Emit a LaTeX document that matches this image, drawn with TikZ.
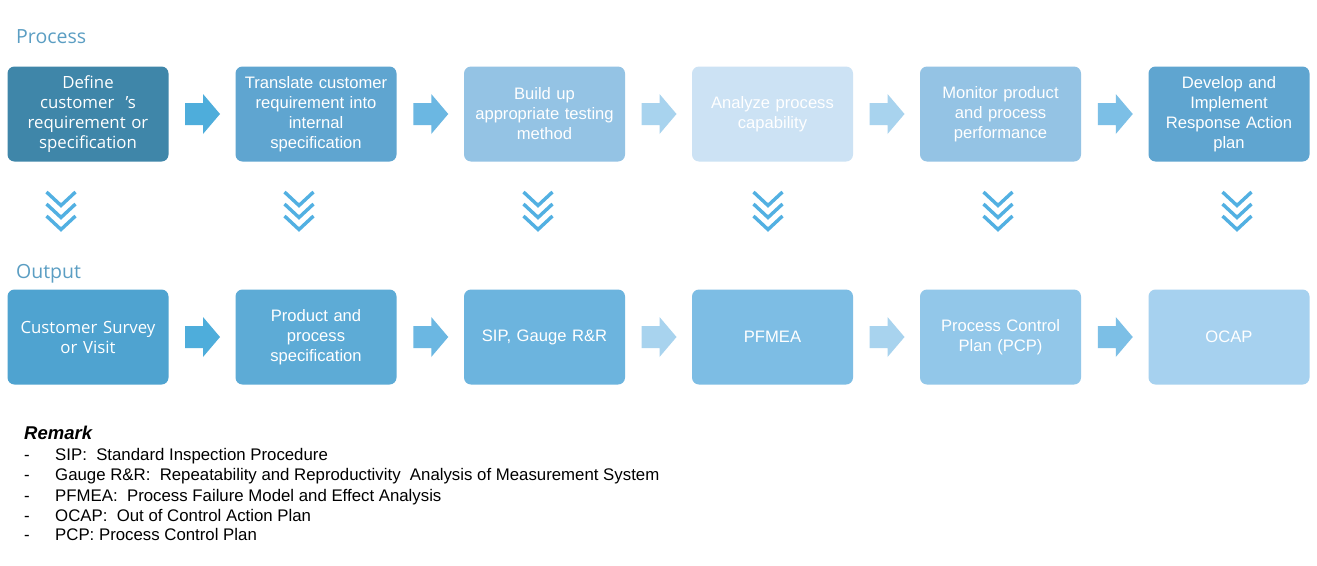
\documentclass[tikz,border=0pt]{standalone}
\usepackage{fontspec}
\setmainfont{Liberation Sans}
\newfontfamily\labfont{Open Sans}
\usetikzlibrary{calc}
\definecolor{lab}{HTML}{5B9EC3}
\definecolor{pA}{HTML}{3F86A9}
\definecolor{pB}{HTML}{5FA5D0}
\definecolor{pC}{HTML}{94C3E4}
\definecolor{pD}{HTML}{CCE2F4}
\definecolor{pE}{HTML}{94C3E4}
\definecolor{pF}{HTML}{5FA5D0}
\definecolor{oA}{HTML}{4FA3D0}
\definecolor{oB}{HTML}{5DABD6}
\definecolor{oC}{HTML}{6CB4DE}
\definecolor{oD}{HTML}{7DBDE4}
\definecolor{oE}{HTML}{92C7E9}
\definecolor{oF}{HTML}{A6D1EF}
\definecolor{aA}{HTML}{4EADDB}
\definecolor{aB}{HTML}{6BB7E2}
\definecolor{aC}{HTML}{A8D3EE}
\definecolor{aD}{HTML}{A8D3EE}
\definecolor{aE}{HTML}{7CBFE6}
\definecolor{chev}{HTML}{52B0E2}
\tikzset{
  box/.style={rounded corners=7pt, minimum width=161pt, minimum height=95pt,
    text width=158pt, align=center, text=white, inner sep=0pt,
    font=\fontsize{16.6}{20}\selectfont},
  altfont/.style={font=\labfont\fontsize{16.8}{20}\selectfont},
  barrow/.pic={\fill (-17,-11) -- (1,-11) -- (1,-20) -- (18,0) -- (1,20) -- (1,11) -- (-17,11) -- cycle;},
  chevrons/.pic={\foreach \d in {0,12,24}{\draw[line width=3.4pt, line cap=butt, line join=miter] (-14.5,-19+\d) -- (0,-5.5+\d) -- (14.5,-19+\d);}},
  seclabel/.style={anchor=base west, inner sep=0pt, text=lab, font=\labfont\fontsize{19.5}{22}\selectfont},
  remark/.style={anchor=base west, inner sep=0pt, font=\fontsize{16.8}{18}\selectfont},
}
\begin{document}
\begin{tikzpicture}[x=1pt,y=-1pt]
\useasboundingbox[fill=white] (0,0) rectangle (1317,565);
\node[seclabel] (proc) at (16,43) {Process};
\node[seclabel] (outp) at (16,278) {Output};
% process row
\node[box, altfont, fill=pA] (p1) at (88,114) {Define\\customer \ ’s\\requirement or\\specification};
\node[box, fill=pB] (p2) at (316,114) {Translate customer\\requirement into\\internal\\specification};
\node[box, fill=pC] (p3) at (544.5,114) {Build up\\appropriate testing\\method};
\node[box, fill=pD] (p4) at (772.5,114) {Analyze process\\capability};
\node[box, fill=pE] (p5) at (1000.5,114) {Monitor product\\and process\\performance};
\node[box, fill=pF] (p6) at (1229,114) {Develop and\\Implement\\Response Action\\plan};
% output row
\node[box, altfont, fill=oA] (o1) at (88,337) {Customer Survey\\or Visit};
\node[box, fill=oB] (o2) at (316,337) {Product and\\process\\specification};
\node[box, fill=oC] (o3) at (544.5,337) {SIP, Gauge R\&R};
\node[box, fill=oD] (o4) at (772.5,337) {PFMEA};
\node[box, fill=oE] (o5) at (1000.5,337) {Process Control\\Plan (PCP)};
\node[box, fill=oF] (o6) at (1229,337) {OCAP};
% block arrows
\foreach \a/\b/\c in {p1/p2/aA,p2/p3/aB,p3/p4/aC,p4/p5/aD,p5/p6/aE}
  \pic[fill=\c] at ($(\a.east)!0.5!(\b.west)$) {barrow};
\foreach \a/\b/\c in {o1/o2/aA,o2/o3/aB,o3/o4/aC,o4/o5/aD,o5/o6/aE}
  \pic[fill=\c] at ($(\a.east)!0.5!(\b.west)$) {barrow};
% chevrons
\foreach \x in {61,299,538,768,998,1237}
  \pic[draw=chev] at (\x,211) {chevrons};
% remark
\node[remark, font=\bfseries\itshape\fontsize{18.5}{20}\selectfont] (rem) at (24,439) {Remark};
\foreach \y/\t [count=\i] in {460/{SIP:\ \ Standard Inspection Procedure},
  480/{Gauge R\&R:\ \ Repeatability and Reproductivity\ \ Analysis of Measurement System},
  501/{PFMEA:\ \ Process Failure Model and Effect Analysis},
  521/{OCAP:\ \ Out of Control Action Plan},
  540/{PCP: Process Control Plan}}{
  \node[remark] (d\i) at (24,\y) {-};
  \node[remark] (r\i) at (55,\y) {\t};
}
\end{tikzpicture}
\end{document}
